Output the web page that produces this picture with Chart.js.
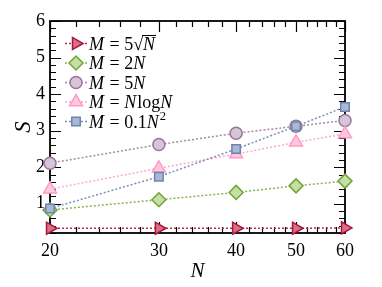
<!DOCTYPE html>
<html><head><meta charset="utf-8">
<script src="https://cdn.jsdelivr.net/npm/chart.js@4/dist/chart.umd.min.js"></script>
<style>html,body{margin:0;padding:0;background:#fff}#wrap{width:382px;height:287px}</style>
</head><body><div id="wrap"><canvas id="c" width="382" height="287"></canvas></div>
<script>
const N = [20, 30, 40, 50, 60];
const xTicks = [20, 30, 40, 50, 60];
const yTicks = [1, 2, 3, 4, 5, 6];
const sSqrt = [0.33, 0.33, 0.33, 0.33, 0.34];
const s2N = [0.83, 1.11, 1.31, 1.49, 1.62];
const s5N = [2.11, 2.62, 2.93, 3.12, 3.28];
const sNlogN = [1.40, 1.97, 2.36, 2.68, 2.91];
const sSq = [0.87, 1.74, 2.50, 3.12, 3.65];
const seriesNames = ['M = 5√N', 'M = 2N', 'M = 5N', 'M = NlogN', 'M = 0.1N²'];

const FONT = "'Liberation Serif','DejaVu Serif',serif";
const styles = [
  {edge:'#a8163a', fill:'#d86f86', line:'#b0304e', ps:'triangle', rot:90, r:7},
  {edge:'#72a43a', fill:'#c6dfa2', line:'#86b550', ps:'rectRot', rot:0, r:7},
  {edge:'#9a7598', fill:'#d6c5d8', line:'#a886a6', ps:'circle', rot:0, r:6},
  {edge:'#ff9cc6', fill:'#ffc8de', line:'#ffa6cc', ps:'triangle', rot:0, r:7.5},
  {edge:'#6d84ad', fill:'#a9b8d4', line:'#7a90b8', ps:'rect', rot:0, r:6}
];
const allSeries = [sSqrt, s2N, s5N, sNlogN, sSq];

const datasets = allSeries.map((s, i) => ({
  label: seriesNames[i],
  data: N.map((n, j) => ({x: n, y: s[j]})),
  borderColor: styles[i].line,
  borderWidth: 1.5,
  borderDash: [2, 2],
  pointStyle: styles[i].ps,
  rotation: styles[i].rot,
  pointRadius: styles[i].r,
  pointHoverRadius: styles[i].r,
  pointBackgroundColor: styles[i].fill,
  pointBorderColor: styles[i].edge,
  pointBorderWidth: 1.5,
  fill: false,
  clip: false,
  order: 5 - i,
  tension: 0
}));

const frame = {
  id: 'frame',
  beforeDatasetsDraw(chart) {
    const {ctx, chartArea: a, scales: {x, y}} = chart;
    ctx.save();
    ctx.strokeStyle = '#000';
    ctx.lineWidth = 1.2;
    for (let v = 20; v <= 60; v += 2) {
      const px = Math.round(x.getPixelForValue(v)) + 0.5;
      const major = xTicks.includes(v);
      const L = major ? 11 : 6;
      ctx.beginPath();
      ctx.moveTo(px, a.bottom); ctx.lineTo(px, a.bottom - L);
      ctx.moveTo(px, a.top); ctx.lineTo(px, a.top + L);
      ctx.stroke();
    }
    for (let k = 1; k <= 30; k++) {
      const v = k * 0.2;
      const py = Math.round(y.getPixelForValue(v)) + 0.5;
      const major = Math.abs(v - Math.round(v)) < 1e-6;
      const L = major ? 11 : 6;
      ctx.beginPath();
      ctx.moveTo(a.left, py); ctx.lineTo(a.left + L, py);
      ctx.moveTo(a.right, py); ctx.lineTo(a.right - L, py);
      ctx.stroke();
    }
    ctx.lineWidth = 1.8;
    ctx.strokeRect(a.left, a.top, a.right - a.left, a.bottom - a.top);
    ctx.restore();
  },
  afterDraw(chart) {
    const {ctx} = chart;
    ctx.save();
    const ys = [43.5, 63, 82.5, 102, 121.5];
    const texts = [
      [{t:'M',i:1},{t:' = 5'},{t:'√'},{t:'N',i:1,o:1}],
      [{t:'M',i:1},{t:' = 2'},{t:'N',i:1}],
      [{t:'M',i:1},{t:' = 5'},{t:'N',i:1}],
      [{t:'M',i:1},{t:' = '},{t:'N',i:1},{t:'log'},{t:'N',i:1}],
      [{t:'M',i:1},{t:' = 0.1'},{t:'N',i:1},{t:'2',s:1}]
    ];
    ys.forEach((yy, i) => {
      const st = styles[i];
      ctx.save();
      ctx.strokeStyle = st.line; ctx.lineWidth = 1.5; ctx.setLineDash([2, 2]);
      ctx.beginPath(); ctx.moveTo(65, yy); ctx.lineTo(87, yy); ctx.stroke();
      ctx.restore();
      ctx.save();
      ctx.fillStyle = st.fill; ctx.strokeStyle = st.edge; ctx.lineWidth = 1.5;
      Chart.helpers.drawPoint(ctx, {pointStyle: st.ps, rotation: st.rot, radius: st.r, borderWidth: 1.5}, 76, yy);
      ctx.restore();
      let cx = 89;
      const base = yy + 6;
      ctx.fillStyle = '#000';
      ctx.textBaseline = 'alphabetic';
      texts[i].forEach(seg => {
        const size = seg.s ? 12.5 : 18;
        ctx.font = (seg.i ? 'italic ' : '') + size + 'px ' + FONT;
        const yb = seg.s ? base - 7.5 : base;
        ctx.fillText(seg.t, cx, yb);
        const w = ctx.measureText(seg.t).width;
        if (seg.o) {
          ctx.beginPath(); ctx.lineWidth = 1; ctx.strokeStyle = '#000';
          ctx.moveTo(cx - 1, base - 14); ctx.lineTo(cx + w + 1, base - 14); ctx.stroke();
        }
        cx += w + (seg.i ? 1 : 0);
      });
    });
    ctx.restore();
  }
};

new Chart(document.getElementById('c'), {
  type: 'line',
  data: {datasets},
  plugins: [frame],
  options: {
    responsive: false,
    animation: false,
    events: [],
    layout: {padding: {top: 21, right: 37, left: 0, bottom: 0}},
    plugins: {legend: {display: false}, tooltip: {enabled: false}},
    scales: {
      x: {
        type: 'logarithmic', min: 20, max: 60,
        afterBuildTicks(s) { s.ticks = xTicks.map(v => ({value: v})); },
        afterFit(s) { s.height = 54; },
        grid: {display: false, drawTicks: false},
        border: {display: false},
        ticks: {color: '#000', padding: 7, maxRotation: 0, autoSkip: false,
          font: {family: FONT, size: 18}, callback: v => String(v)},
        title: {display: true, text: 'N', color: '#000', padding: {top: 0, bottom: 3},
          font: {family: FONT, size: 21, style: 'italic'}}
      },
      y: {
        type: 'linear', min: 0.2, max: 6,
        afterBuildTicks(s) { s.ticks = yTicks.map(v => ({value: v})); },
        afterFit(s) { s.width = 50; },
        grid: {display: false, drawTicks: false},
        border: {display: false},
        ticks: {color: '#000', padding: 5, font: {family: FONT, size: 18}},
        title: {display: true, text: 'S', color: '#000', padding: {top: 10, bottom: 0},
          font: {family: FONT, size: 23, style: 'italic'}}
      }
    }
  }
});
</script></body></html>
